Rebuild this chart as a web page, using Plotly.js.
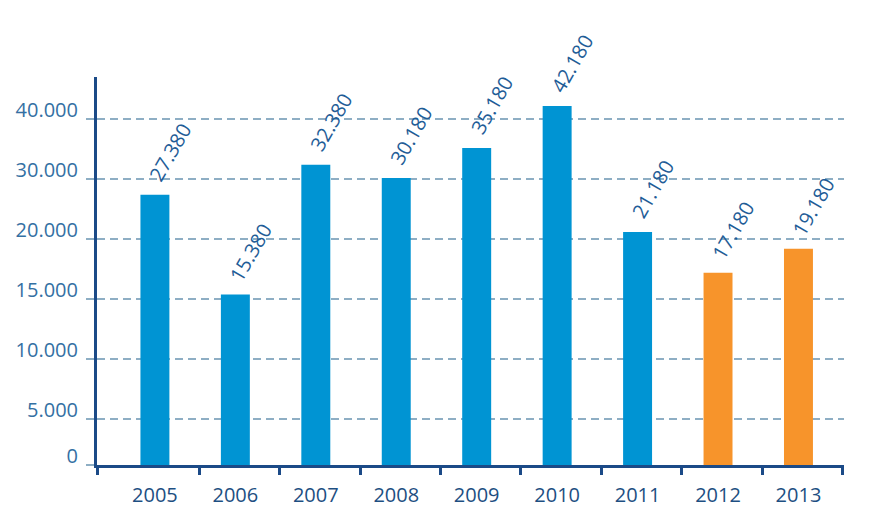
<!DOCTYPE html>
<html>
<head>
<meta charset="utf-8">
<script src="https://cdn.plot.ly/plotly-3.0.1.min.js"></script>
<style>html,body{margin:0;padding:0;background:#fff;}#chart{width:870px;height:530px;}</style>
</head>
<body>
<div id="chart"></div>
<script>
// ---- data ----
const years = ['2005', '2006', '2007', '2008', '2009', '2010', '2011', '2012', '2013'];
const values = [27380, 15380, 32380, 30180, 35180, 42180, 21180, 17180, 19180];
const forecastYears = ['2012', '2013'];
const tickValues = [0, 5000, 10000, 15000, 20000, 30000, 40000];

// ---- styles ----
const BLUE = '#0094d3', ORANGE = '#f7942b', AXIS = '#1b4a87', GRID = '#8eaec4';
const FONT = 'Open Sans, Segoe UI, Arial, sans-serif';

// number format with '.' as thousands separator
function fmt(v) { return String(v).replace(/\B(?=(\d{3})+(?!\d))/g, '.'); }

// The chart's value axis is piecewise linear between its (unevenly spaced) tick values:
// each band between labelled ticks has the same height, the first band (0 - 5.000) is shorter.
const FIRST_BAND = 0.767;
function bandPos(i) { return i === 0 ? 0 : FIRST_BAND + (i - 1); }
function scale(v) {
  let i = 0;
  while (i < tickValues.length - 2 && v > tickValues[i + 1]) i++;
  const v0 = tickValues[i], v1 = tickValues[i + 1];
  return bandPos(i) + (v - v0) / (v1 - v0) * (bandPos(i + 1) - bandPos(i));
}

const idx = years.map((_, i) => i);
const xRange = [-0.72, 8.566];
const yRange = [0, 6.467];

const trace = {
  type: 'bar',
  x: idx,
  y: values.map(scale),
  customdata: values,
  width: 0.36,
  marker: { color: years.map(y => forecastYears.includes(y) ? ORANGE : BLUE) },
  hoverinfo: 'skip',
  cliponaxis: false
};

const annotations = idx.map(i => ({
  x: i, y: scale(values[i]), xref: 'x', yref: 'y',
  text: fmt(values[i]), textangle: -60,
  xanchor: 'left', yanchor: 'bottom', showarrow: false,
  xshift: -15, yshift: 6,
  font: { family: FONT, size: 20, color: '#1f5d97' }
}));

const layout = {
  width: 870, height: 530,
  margin: { l: 97, r: 26, t: 77, b: 65, pad: 0 },
  paper_bgcolor: '#fff', plot_bgcolor: '#fff',
  showlegend: false,
  font: { family: FONT },
  xaxis: {
    type: 'linear', range: xRange, fixedrange: true,
    tickmode: 'array', tickvals: idx, ticktext: years,
    showline: true, linecolor: AXIS, linewidth: 3,
    ticks: '', showgrid: false, zeroline: false,
    minor: {
      tickmode: 'array', tickvals: [xRange[0]].concat(idx.map(i => i + 0.55)),
      ticks: 'outside', ticklen: 7, tickwidth: 3, tickcolor: AXIS, showgrid: false
    },
    tickfont: { family: FONT, size: 20, color: '#1e4f82' },
    ticklabelstandoff: 10
  },
  yaxis: {
    range: yRange, fixedrange: true,
    tickmode: 'array', tickvals: tickValues.map(scale), ticktext: tickValues.map(fmt),
    showgrid: true, gridcolor: GRID, gridwidth: 1.5, griddash: '8px,5px',
    showline: true, linecolor: AXIS, linewidth: 3, zeroline: false,
    ticks: 'outside', ticklen: 8, tickwidth: 1.5, tickcolor: GRID,
    ticklabelposition: 'outside', ticklabelshift: -9, ticklabelstandoff: 4,
    tickfont: { family: FONT, size: 20, color: '#3470a3' }
  },
  annotations: annotations
};

Plotly.newPlot('chart', [trace], layout, { staticPlot: true, displayModeBar: false });
</script>
</body>
</html>
